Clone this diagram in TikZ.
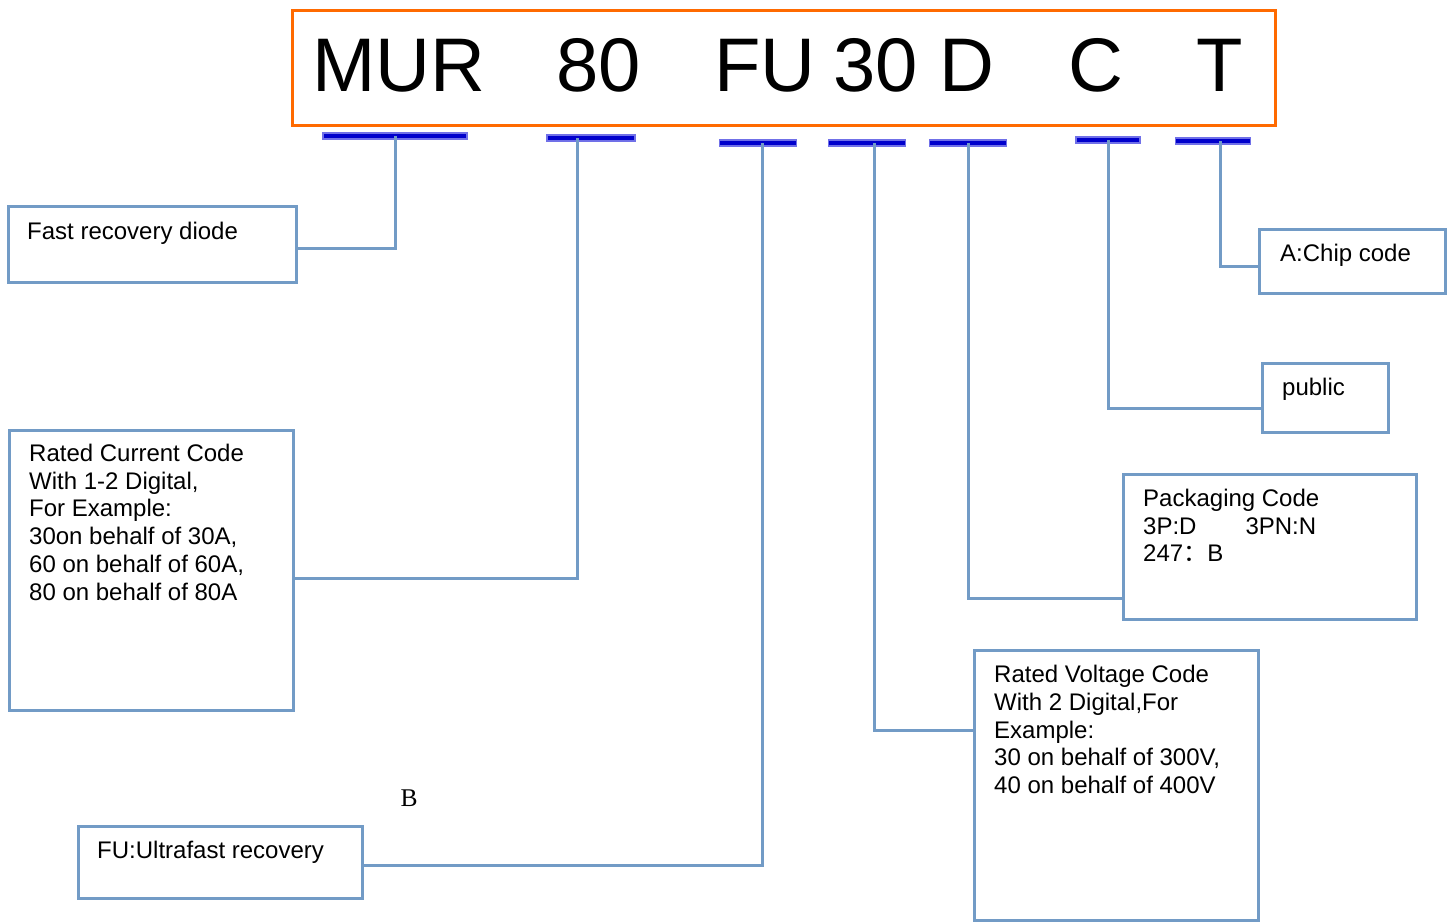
\documentclass[tikz,border=0pt]{standalone}
\usepackage{fontspec}
\setmainfont{Liberation Sans}
\newfontfamily\serifB{Liberation Serif}
\newfontfamily\cjk{Noto Sans CJK SC}

\definecolor{codeorange}{HTML}{FF6A00}
\definecolor{barblue}{HTML}{0000CC}
\definecolor{barglow}{HTML}{7070E8}
\definecolor{linkblue}{HTML}{729BC6}

\tikzset{
  codebox/.style={draw=codeorange, line width=3pt, anchor=north west, inner sep=0pt},
  codetext/.style={font=\fontsize{76}{80}\selectfont, anchor=base west, inner sep=0pt},
  codebar/.style={fill=barblue, draw=barglow, line width=1.5pt, minimum height=6pt, inner sep=0pt},
  infobox/.style={draw=linkblue, line width=3pt, anchor=north west, inner sep=0pt},
  desc/.style={font=\fontsize{24}{27.7}\selectfont, anchor=north west, inner sep=0pt, align=left},
  link/.style={draw=linkblue, line width=3pt}
}

\begin{document}
\begin{tikzpicture}[x=1pt, y=-1pt]
  \useasboundingbox (0,0) rectangle (1451,921);
  % part number
  \node[codebox, minimum width=983, minimum height=115] (code) at (291,9) {};
  \foreach \n/\x/\t in {mur/312/MUR, n80/556/80, fu/714/FU, n30/833/30, d/939/D, c/1068/C, t/1196/T}{
    \node[codetext] (t\n) at (\x,91) {\t};
  }
  \foreach \n/\x/\y/\w in {mur/395/136/144, n80/591/138/88, fu/758/143/77, n30/867/143/77,
                           d/968/143/77, c/1108/140/64, t/1213/141/75}{
    \node[codebar, minimum width=\w] (b\n) at (\x,\y) {};
  }

  % boxes
  \node[infobox, minimum width=288, minimum height=76] (fast) at (7,205) {};
  \node[infobox, minimum width=284, minimum height=280] (cur) at (8,429) {};
  \node[infobox, minimum width=284, minimum height=72] (ufr) at (77,825) {};
  \node[infobox, minimum width=284, minimum height=270] (volt) at (973,649) {};
  \node[infobox, minimum width=293, minimum height=145] (pack) at (1122,473) {};
  \node[infobox, minimum width=126, minimum height=69] (pub) at (1261,362) {};
  \node[infobox, minimum width=186, minimum height=64] (chip) at (1258,228) {};

  \node[desc] (tfast) at (27,222) {Fast recovery diode};
  \node[desc] (tcur) at (29,444) {Rated Current Code\\With 1-2 Digital,\\For Example:\\30on behalf of 30A,\\60 on behalf of 60A,\\80 on behalf of 80A};
  \node[desc] (tufr) at (97,841) {FU:Ultrafast recovery};
  \node[desc] (tvolt) at (994,665) {Rated Voltage Code\\With 2 Digital,For\\Example:\\30 on behalf of 300V,\\40 on behalf of 400V};
  \node[desc] (tpack) at (1143,489) {Packaging Code\\3P:D\hspace{49pt}3PN:N\\247{\cjk ：}B};
  \node[desc] (tpub) at (1282,378) {public};
  \node[desc] (tchip) at (1280,244) {A:Chip code};
  \node[font=\serifB\fontsize{25.5}{26}\selectfont, anchor=base, inner sep=0pt] (stray) at (409,806) {B};

  % connectors
  \draw[link] (bmur.center) |- (fast.east |- 0,248);
  \draw[link] ([xshift=-14pt]bn80.center) |- (cur.east |- 0,578);
  \draw[link] ([xshift=4pt]bfu.center) |- (ufr.east |- 0,865);
  \draw[link] ([xshift=7pt]bn30.center) |- (volt.west |- 0,730);
  \draw[link] (bd.center) |- (pack.west |- 0,598);
  \draw[link] (bc.center) |- (pub.west |- 0,408);
  \draw[link] ([xshift=7pt]bt.center) |- (chip.west |- 0,266);
\end{tikzpicture}
\end{document}
